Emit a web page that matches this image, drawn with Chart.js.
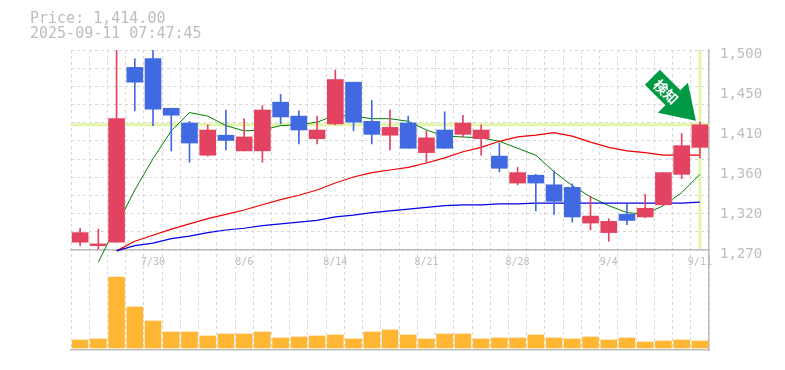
<!DOCTYPE html>
<html lang="ja">
<head>
  <meta charset="UTF-8">
  <title>Price chart</title>
  <script src="https://cdn.jsdelivr.net/npm/chart.js@4/dist/chart.umd.js"></script>
  <style>
    html, body { margin: 0; padding: 0; background: #fff; }
    canvas { display: block; }
  </style>
</head>
<body>
<canvas id="myChart" width="785" height="370"></canvas>

<script>
const days = ['7/24','7/25','7/28','7/29','7/30','7/31','8/1','8/4','8/5','8/6','8/7','8/8','8/12','8/13','8/14','8/15','8/18','8/19','8/20','8/21','8/22','8/25','8/26','8/27','8/28','8/29','9/1','9/2','9/3','9/4','9/5','9/8','9/9','9/10','9/11'];
const tickDays = ['7/30','8/6','8/14','8/21','8/28','9/4','9/11'];
const priceTicks = [1500, 1454, 1408, 1362, 1316, 1270];

const opens  = [1279,1275,1279,1480,1490,1433,1416,1379,1402,1384,1384,1440,1424,1398,1415,1463,1418,1402,1416,1382,1408,1403,1398,1378,1347,1356,1345,1342,1301,1290,1311,1308,1322,1357,1388];
const closes = [1290,1277,1421,1463,1432,1425,1393,1408,1396,1400,1431,1423,1408,1408,1466,1417,1403,1411,1387,1399,1387,1416,1408,1364,1359,1347,1326,1308,1309,1303,1304,1318,1359,1390,1414];
const highs  = [1295,1294,1510,1490,1510,1433,1418,1414,1431,1421,1436,1449,1430,1424,1477,1463,1442,1431,1424,1407,1429,1425,1414,1393,1365,1357,1361,1346,1332,1306,1323,1334,1359,1404,1417];
const lows   = [1275,1271,1279,1430,1413,1384,1371,1378,1385,1384,1371,1415,1392,1392,1414,1407,1392,1385,1387,1370,1387,1400,1379,1360,1345,1315,1311,1302,1293,1280,1299,1307,1321,1352,1376];

const maShort = [null,1256,1298,1339,1375,1407,1428,1424,1413,1407,1408,1413,1414,1417,1425,1424,1421,1421,1418,1408,1401,1400,1399,1395,1387,1379,1360,1344,1331,1321,1313,1311,1321,1336,1357];
const maMid   = [null,null,1269,1280,1287,1294,1300,1306,1311,1316,1322,1328,1333,1339,1347,1354,1359,1362,1365,1370,1376,1383,1388,1395,1400,1402,1405,1401,1394,1388,1384,1382,1379,1379,1379];
const maLong  = [null,null,1269,1275,1278,1283,1286,1290,1293,1295,1298,1300,1302,1304,1308,1310,1313,1315,1317,1319,1321,1322,1322,1323,1323,1324,1324,1324,1324,1324,1324,1324,1324,1324,1325];

const volumes = [80,90,710,410,270,160,160,120,140,140,160,100,110,120,130,90,160,180,130,90,140,140,90,100,100,130,100,90,110,80,100,60,70,80,70];

const lastPrice = 1414;
const titleLines = ['Price: 1,414.00', '2025-09-11 07:47:45'];
const signText = '検知';

const UP = '#e34360', DOWN = '#4169e1';
const GREY = '#bdbdbd', GRID = '#d8d8d8';
const candleColor = (c) => closes[c.dataIndex] >= opens[c.dataIndex] ? UP : DOWN;

// price cross behind the marks, title and the green sign on top
const overlay = {
  id: 'overlay',
  beforeDatasetsDraw(chart) {
    const { ctx, chartArea, scales } = chart;
    const py = scales.y.getPixelForValue(lastPrice);
    const px = scales.x.getPixelForValue(days.length - 1);
    ctx.save();
    ctx.strokeStyle = '#e3f5a9';
    ctx.lineWidth = 3;
    ctx.beginPath();
    ctx.moveTo(chartArea.left, py);
    ctx.lineTo(chartArea.right, py);
    ctx.moveTo(px, chartArea.top);
    ctx.lineTo(px, scales.y.getPixelForValue(1270) - 1);
    ctx.stroke();
    ctx.restore();
  },
  afterDraw(chart) {
    const { ctx, scales } = chart;
    ctx.save();
    ctx.fillStyle = GREY;
    ctx.font = '15px "DejaVu Sans Mono"';
    ctx.textBaseline = 'alphabetic';
    ctx.fillText(titleLines[0], 30, 23);
    ctx.fillText(titleLines[1], 30, 38);

    // arrow hangs off the last candle
    const cx = scales.x.getPixelForValue(days.length - 1);
    const cy = scales.y.getPixelForValue(lastPrice);
    ctx.translate(cx, cy);
    ctx.fillStyle = '#009944';
    ctx.beginPath();
    [[-40,-55],[-19.5,-34.5],[-12,-42],[-4,-4],[-42,-12],[-34.5,-19.5],[-55,-40]].forEach(([x, y], i) => {
      if (i) ctx.lineTo(x, y); else ctx.moveTo(x, y);
    });
    ctx.closePath();
    ctx.fill();
    ctx.translate(-34, -33);
    ctx.rotate(Math.PI / 4);
    ctx.fillStyle = '#fff';
    ctx.font = 'bold 14px "Noto Sans CJK JP"';
    ctx.textAlign = 'center';
    ctx.textBaseline = 'middle';
    ctx.fillText(signText, 0, 0);
    ctx.restore();
  }
};

new Chart(document.getElementById('myChart').getContext('2d'), {
  data: {
    labels: days,
    datasets: [
      { type: 'bar', data: opens.map((o, i) => [o, closes[i]]), backgroundColor: candleColor, barThickness: 16, grouped: false, order: 1 },
      { type: 'bar', data: lows.map((l, i) => [l, highs[i]]), backgroundColor: candleColor, barThickness: 1, grouped: false, order: 2 },
      { type: 'line', data: maLong, borderColor: '#0000e6', borderWidth: 1.2, pointRadius: 0, order: 3 },
      { type: 'line', data: maMid, borderColor: '#f00000', borderWidth: 1.2, pointRadius: 0, order: 3 },
      { type: 'line', data: maShort, borderColor: '#008000', borderWidth: 1, pointRadius: 0, order: 3 },
      { type: 'bar', data: volumes, yAxisID: 'yVol', backgroundColor: '#ffb733', barThickness: 16, grouped: false, order: 4 }
    ]
  },
  options: {
    responsive: false,
    animation: false,
    events: [],
    layout: { padding: { top: 50, bottom: 20, left: 71, right: 0 } },
    plugins: { legend: { display: false }, tooltip: { enabled: false }, title: { display: false } },
    scales: {
      x: {
        type: 'category',
        offset: true,
        position: { y: 1270 },
        grid: { color: GRID, drawTicks: false, lineWidth: 1 },
        border: { color: GREY, width: 1.5, dash: [3, 3] },
        afterFit(s) { s.height = 0; s.paddingLeft = 0; s.paddingRight = 0; },
        ticks: {
          autoSkip: false, maxRotation: 0, padding: 6, color: GREY,
          font: { family: '"DejaVu Sans Mono"', size: 10 },
          callback(v) { const d = this.getLabelForValue(v); return tickDays.includes(d) ? d : ''; }
        }
      },
      xBase: {
        type: 'category', axis: 'x', position: 'bottom', offset: true,
        grid: { display: false, drawTicks: false },
        border: { color: GREY, width: 1.5 },
        afterFit(s) { s.height = 0; },
        ticks: { display: false }
      },
      y: {
        position: 'right', min: 1155, max: 1500,
        grid: { display: false, drawTicks: false },
        border: { color: GREY, width: 1.5 },
        afterBuildTicks(s) { s.ticks = priceTicks.map((value) => ({ value })); },
        afterFit(s) { s.width = 76; s.paddingTop = 0; s.paddingBottom = 0; },
        ticks: {
          autoSkip: false, padding: 11, color: GREY,
          // empty first line pushes the label below its tick
          font: { family: '"DejaVu Sans Mono"', size: 14, lineHeight: '8px' },
          callback(v) { return ['', (Math.round(v / 10) * 10).toLocaleString('en-US')]; }
        }
      },
      yGrid: {
        axis: 'y', position: 'left', min: 1155, max: 1500,
        grid: { color: GRID, drawTicks: false },
        border: { display: false, dash: [3, 3] },
        ticks: { display: false },
        afterBuildTicks(s) { s.ticks = Array.from({ length: 12 }, (_, i) => ({ value: 1500 - i * 230 / 11 })); },
        afterFit(s) { s.width = 0; }
      },
      yVol: { axis: 'y', display: false, min: -20, max: 2980 }
    }
  },
  plugins: [overlay]
});
</script>
</body>
</html>
